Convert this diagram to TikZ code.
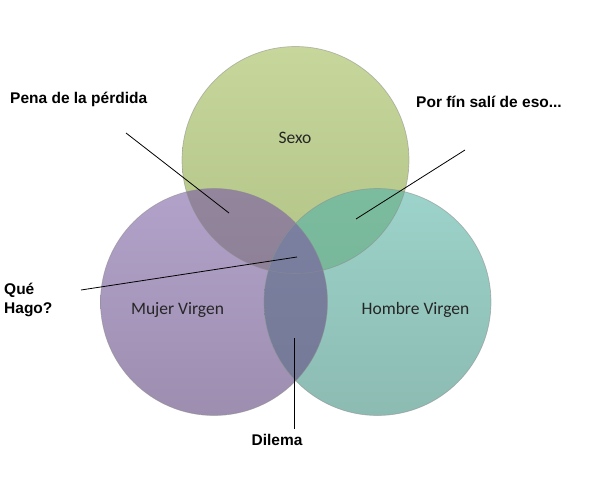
\documentclass[tikz,border=0pt]{standalone}
\usepackage{fontspec}
\setmainfont{Liberation Sans}
\newfontfamily\venntextfont{Carlito}
\usetikzlibrary{positioning}

\definecolor{sexoTop}{RGB}{199,215,156}
\definecolor{sexoBot}{RGB}{178,195,134}
\definecolor{mujerTop}{RGB}{178,162,202}
\definecolor{mujerBot}{RGB}{157,142,176}
\definecolor{hombreTop}{RGB}{156,211,202}
\definecolor{hombreBot}{RGB}{140,187,178}
\definecolor{smTop}{RGB}{146,133,156}
\definecolor{smBot}{RGB}{136,124,144}
\definecolor{shTop}{RGB}{124,188,158}
\definecolor{shBot}{RGB}{114,176,148}
\definecolor{mhTop}{RGB}{124,129,162}
\definecolor{mhBot}{RGB}{116,121,150}

\begin{document}
\begin{tikzpicture}[x=1pt, y=-1pt,
    lbl/.style={font=\fontsize{15.5}{19.5}\selectfont\bfseries, inner sep=0pt},
    inlbl/.style={font=\venntextfont\fontsize{17.5}{20}\selectfont, text=black!85},
    rim/.style={draw=black!45, opacity=0.55, line width=0.7pt},
    pointer/.style={black, line width=0.8pt}]
    \useasboundingbox (0,0) rectangle (592,484);

    % Circle centres
    \coordinate (sexoC) at (295.5,160);
    \coordinate (mujerC) at (214,302);
    \coordinate (hombreC) at (377.5,302);
    \def\rad{113.5pt}

    % Circles
    \shade[top color=sexoTop, bottom color=sexoBot] (sexoC) circle (\rad);
    \shade[top color=mujerTop, bottom color=mujerBot] (mujerC) circle (\rad);
    \shade[top color=hombreTop, bottom color=hombreBot] (hombreC) circle (\rad);

    % Overlaps
    \begin{scope}
      \clip (sexoC) circle (\rad);
      \shade[top color=smTop, bottom color=smBot] (mujerC) circle (\rad);
      \shade[top color=shTop, bottom color=shBot] (hombreC) circle (\rad);
    \end{scope}
    \begin{scope}
      \clip (mujerC) circle (\rad);
      \shade[top color=mhTop, bottom color=mhBot] (hombreC) circle (\rad);
    \end{scope}

    % Rims
    \draw[rim] (sexoC) circle (\rad);
    \draw[rim] (mujerC) circle (\rad);
    \draw[rim] (hombreC) circle (\rad);

    % Circle labels
    \node[inlbl] (sexo) at (295,138) {Sexo};
    \node[inlbl] (mujer) at (177.5,310) {Mujer Virgen};
    \node[inlbl] (hombre) at (415.5,310) {Hombre Virgen};

    % Outer labels
    \node[lbl, anchor=west] (pena) at (10,99) {Pena de la pérdida};
    \node[lbl, anchor=west] (porfin) at (416,102) {Por fín salí de eso...};
    \node[lbl, anchor=west, align=left] (quehago) at (4,300) {Qué\\Hago?};
    \node[lbl] (dilema) at (277,440) {Dilema};

    % Pointers
    \coordinate (penaA) at (126,133);
    \coordinate (penaB) at (229,213);
    \coordinate (porfinA) at (465,150);
    \coordinate (porfinB) at (356,219);
    \coordinate (quehagoA) at (81,290);
    \coordinate (quehagoB) at (297,257);
    \coordinate (dilemaA) at (294,429);
    \coordinate (dilemaB) at (294,338);
    \draw[pointer] (penaA) -- (penaB);
    \draw[pointer] (porfinA) -- (porfinB);
    \draw[pointer] (quehagoA) -- (quehagoB);
    \draw[pointer] (dilemaA) -- (dilemaB);
\end{tikzpicture}
\end{document}
